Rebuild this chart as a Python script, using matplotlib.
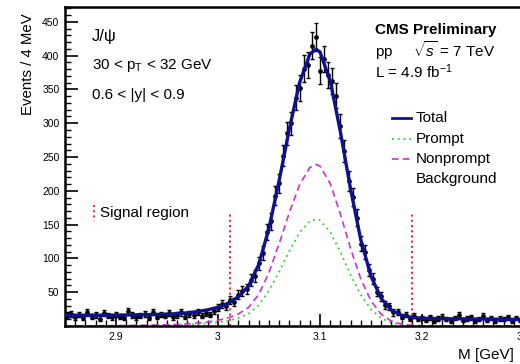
import numpy as np
import matplotlib
matplotlib.use("Agg")
import matplotlib.pyplot as plt
from matplotlib.lines import Line2D
from matplotlib.ticker import MultipleLocator, FixedLocator, FixedFormatter

plt.rcParams['font.family'] = ['Liberation Sans', 'DejaVu Sans']
plt.rcParams['mathtext.fontset'] = 'custom'
plt.rcParams['mathtext.rm'] = 'Liberation Sans'
plt.rcParams['mathtext.it'] = 'Liberation Sans:italic'

# ---------------- data ----------------
bin_width = 0.004
m_low, m_high = 2.85, 3.35
counts = [
    # 2.852 ... 2.996
    15, 18, 13, 17, 12, 20, 14, 16, 11, 19, 15, 13, 17, 14, 12, 22, 16, 13, 15, 18,
    12, 21, 14, 17, 15, 19, 13, 16, 20, 14, 18, 16, 21, 15, 19, 17, 22,
    # 3.000 ... 3.196
    27, 33, 29, 38, 36, 46, 52, 55, 68, 74, 93, 108, 139, 155, 193, 211, 252, 285,
    300, 338, 352, 381, 386, 415, 428, 378, 395, 372, 362, 341, 296, 259, 214, 191,
    160, 122, 109, 83, 70, 51, 44, 31, 29, 20, 21, 14, 17, 11, 15, 10,
    # 3.200 ... 3.348
    12, 9, 13, 8, 11, 14, 10, 7, 12, 16, 9, 11, 13, 8, 10, 15, 9, 12, 7, 11,
    10, 13, 8, 12, 9, 14, 10, 8, 11, 13, 9, 10, 12, 8, 11, 9, 10, 12,
]

# fit components sampled at these masses
curve_m = [2.85, 2.90, 2.95, 2.97, 2.98, 2.99, 3.00, 3.01, 3.02, 3.03, 3.04, 3.05,
           3.06, 3.07, 3.08, 3.09, 3.096, 3.10, 3.11, 3.12, 3.13, 3.14, 3.15, 3.16,
           3.17, 3.18, 3.19, 3.20, 3.22, 3.25, 3.30, 3.35]
prompt = [0.0, 0.3, 1.1, 2.1, 2.8, 4.0, 5.5, 7.9, 11.9, 18.2, 31.0, 52.5,
          80.6, 111.1, 138.3, 155.0, 158.0, 156.4, 139.4, 109.5, 75.7, 46.0, 24.6, 11.5,
          4.7, 1.7, 0.6, 0.2, 0.0, 0.0, 0.0, 0.0]
nonprompt = [0.0, 0.5, 1.7, 3.1, 4.3, 6.0, 8.4, 12.0, 17.9, 27.5, 46.8, 79.3,
             121.9, 168.0, 209.1, 234.5, 239.0, 236.6, 210.9, 165.6, 114.5, 69.5, 37.3, 17.4,
             7.2, 2.6, 0.9, 0.2, 0.0, 0.0, 0.0, 0.0]
background = [16.0, 15.3, 14.6, 14.3, 14.2, 14.0, 13.9, 13.8, 13.6, 13.5, 13.3, 13.2,
              13.1, 12.9, 12.8, 12.6, 12.6, 12.5, 12.4, 12.2, 12.1, 11.9, 11.8, 11.7,
              11.5, 11.4, 11.2, 11.1, 10.8, 10.4, 9.7, 9.0]

signal_region = [3.012, 3.190]
signal_line_top = 165

x_tick_vals = [2.9, 3.0, 3.1, 3.2, 3.3]
x_tick_labels = ["2.9", "3", "3.1", "3.2", "3.3"]
y_tick_vals = [50, 100, 150, 200, 250, 300, 350, 400, 450]
y_tick_labels = ["50", "100", "150", "200", "250", "300", "350", "400", "450"]

# ---------------- figure ----------------
W, H = 520, 364
fig = plt.figure(figsize=(W / 100, H / 100), dpi=100)
ax = fig.add_axes([65 / W, 1 - 326 / H, 510 / W, (326 - 7) / H])

centers = m_low + bin_width / 2 + bin_width * np.arange(len(counts))
counts_a = np.array(counts, dtype=float)
cm = np.array(curve_m)
total = np.array(prompt) + np.array(nonprompt) + np.array(background)

ax.plot(cm, prompt, color='#33cc33', ls=(0, (1, 2.2)), lw=1.3, zorder=2)
ax.plot(cm, nonprompt, color='#cc33cc', ls=(0, (4, 2.5)), lw=1.2, zorder=2)
for xs in signal_region:
    ax.plot([xs, xs], [0, signal_line_top], color='#dd3344', ls=(0, (1, 1.5)), lw=1.5, zorder=2)
ax.errorbar(centers, counts_a, yerr=np.sqrt(counts_a), fmt='o', ms=2.4, color='black',
            ecolor='black', elinewidth=1.0, capsize=1.6, capthick=1.0, zorder=3)
ax.plot(cm, total, color='#101090', lw=2.4, zorder=4)

ax.set_xlim(m_low, m_high)
ax.set_ylim(0, 472)

ax.xaxis.set_major_locator(FixedLocator(x_tick_vals))
ax.xaxis.set_major_formatter(FixedFormatter(x_tick_labels))
ax.xaxis.set_minor_locator(MultipleLocator(0.01))
ax.yaxis.set_major_locator(FixedLocator(y_tick_vals))
ax.yaxis.set_major_formatter(FixedFormatter(y_tick_labels))
ax.yaxis.set_minor_locator(MultipleLocator(10))

ax.tick_params(axis='both', which='major', direction='in', length=9, width=1.2,
               labelsize=7.5, pad=4)
ax.tick_params(axis='both', which='minor', direction='in', length=4.5, width=1.0)
ax.tick_params(axis='y', which='major', pad=4)
for s in ax.spines.values():
    s.set_linewidth(1.8)

def ftext(x, y, s, **kw):
    fig.text(x / W, 1 - y / H, s, **kw)

ftext(28, 13, "Events / 4 MeV", rotation=90, ha='center', va='top', fontsize=10.8)
ftext(458, 355, "M [GeV]", ha='left', va='center', fontsize=11)

ftext(92, 37, "J/\u03c8", ha='left', va='center', fontsize=12)
ftext(92, 66, r"30 < p$_{\rm T}$ < 32 GeV", ha='left', va='center', fontsize=11)
ftext(92, 95, "0.6 < |y| < 0.9", ha='left', va='center', fontsize=11)

ftext(375, 30, "CMS Preliminary", ha='left', va='center', fontsize=11, weight='bold')
ftext(375, 51, r"pp     $\sqrt{s}$ = 7 TeV", ha='left', va='center', fontsize=11)
ftext(375, 72, r"L = 4.9 fb$^{-1}$", ha='left', va='center', fontsize=11)

legend_items = [
    ("Total", dict(color='#101090', ls='-', lw=2.0), 118),
    ("Prompt", dict(color='#33cc33', ls=(0, (1, 2.2)), lw=1.3), 139),
    ("Nonprompt", dict(color='#cc33cc', ls=(0, (4, 2.5)), lw=1.2), 159),
    ("Background", None, 179),
]
for label, style, y in legend_items:
    if style is not None:
        fig.add_artist(Line2D([392 / W, 411 / W], [1 - y / H, 1 - y / H],
                              transform=fig.transFigure, **style))
    ftext(416, y, label, ha='left', va='center', fontsize=11)

fig.add_artist(Line2D([94 / W, 94 / W], [1 - 205 / H, 1 - 221 / H], transform=fig.transFigure,
                      color='#dd3344', ls=(0, (1, 1.5)), lw=1.5))
ftext(100, 213, "Signal region", ha='left', va='center', fontsize=11)

fig.savefig("out.png", dpi=100)
